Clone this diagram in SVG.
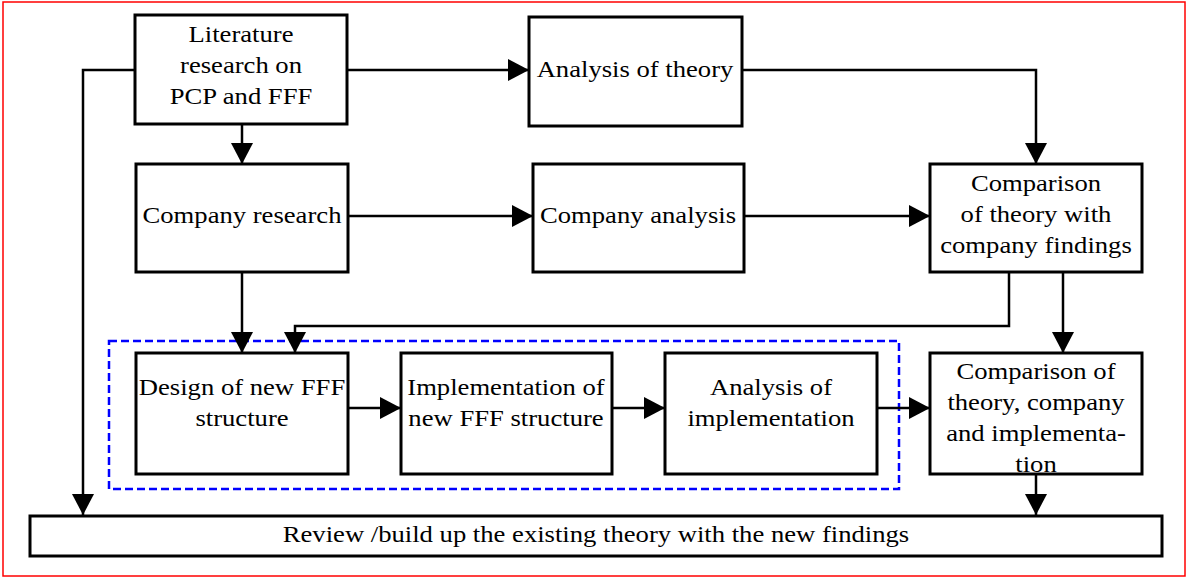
<svg xmlns="http://www.w3.org/2000/svg" width="1187" height="578" viewBox="0 0 1187 578">
<style>
.box{fill:#fff;stroke:#000;stroke-width:3}
.t{font-family:"Liberation Serif","Times New Roman",serif;font-size:24px;fill:#000;text-anchor:middle}
.c{fill:none;stroke:#000;stroke-width:2.5}
</style>
<defs>
<marker id="ah" markerUnits="userSpaceOnUse" markerWidth="21" markerHeight="22" refX="21" refY="11" orient="auto">
<path d="M0,0 L21,11 L0,22 z" fill="#000"/>
</marker>
</defs>
<rect x="3" y="2" width="1182" height="574" fill="#fff" stroke="#f00" stroke-width="1.5"/>
<rect id="group-frame" x="109" y="341" width="790" height="148" fill="none" stroke="#00f" stroke-width="2.5" stroke-dasharray="8 4"/>
<g id="connectors">
<polyline class="c" points="135,70 83,70 83,515" marker-end="url(#ah)"/>
<line class="c" x1="347" y1="70" x2="529" y2="70" marker-end="url(#ah)"/>
<line class="c" x1="242" y1="124" x2="242" y2="164" marker-end="url(#ah)"/>
<polyline class="c" points="742,70 1036,70 1036,164" marker-end="url(#ah)"/>
<line class="c" x1="348" y1="216" x2="533" y2="216" marker-end="url(#ah)"/>
<line class="c" x1="744" y1="216" x2="930" y2="216" marker-end="url(#ah)"/>
<line class="c" x1="242" y1="272" x2="242" y2="353" marker-end="url(#ah)"/>
<polyline class="c" points="1009,272 1009,326 295,326 295,353" marker-end="url(#ah)"/>
<line class="c" x1="1063" y1="272" x2="1063" y2="353" marker-end="url(#ah)"/>
<line class="c" x1="348" y1="408" x2="401" y2="408" marker-end="url(#ah)"/>
<line class="c" x1="612" y1="408" x2="665" y2="408" marker-end="url(#ah)"/>
<line class="c" x1="877" y1="408" x2="930" y2="408" marker-end="url(#ah)"/>
<line class="c" x1="1036" y1="474" x2="1036" y2="515" marker-end="url(#ah)"/>
</g>
<g id="literature">
<rect class="box" x="135" y="15" width="212" height="109"/>
<g transform="translate(241 0) scale(1.11 1)">
<text class="t" x="0" y="42">Literature</text>
<text class="t" x="0" y="73">research on</text>
<text class="t" x="0" y="104">PCP and FFF</text>
</g>
</g>
<g id="analysis-theory">
<rect class="box" x="529" y="17" width="213" height="109"/>
<g transform="translate(635 0) scale(1.11 1)">
<text class="t" x="0" y="77">Analysis of theory</text>
</g>
</g>
<g id="company-research">
<rect class="box" x="136" y="164" width="212" height="108"/>
<g transform="translate(242 0) scale(1.11 1)">
<text class="t" x="0" y="223">Company research</text>
</g>
</g>
<g id="company-analysis">
<rect class="box" x="533" y="164" width="211" height="108"/>
<g transform="translate(638 0) scale(1.11 1)">
<text class="t" x="0" y="223">Company analysis</text>
</g>
</g>
<g id="comparison1">
<rect class="box" x="930" y="164" width="212" height="108"/>
<g transform="translate(1036 0) scale(1.11 1)">
<text class="t" x="0" y="191">Comparison</text>
<text class="t" x="0" y="222">of theory with</text>
<text class="t" x="0" y="253">company findings</text>
</g>
</g>
<g id="design">
<rect class="box" x="136" y="353" width="212" height="121"/>
<g transform="translate(242 0) scale(1.11 1)">
<text class="t" x="0" y="395">Design of new FFF</text>
<text class="t" x="0" y="426">structure</text>
</g>
</g>
<g id="implementation">
<rect class="box" x="401" y="353" width="211" height="121"/>
<g transform="translate(506 0) scale(1.11 1)">
<text class="t" x="0" y="395">Implementation of</text>
<text class="t" x="0" y="426">new FFF structure</text>
</g>
</g>
<g id="analysis-impl">
<rect class="box" x="665" y="353" width="212" height="121"/>
<g transform="translate(771 0) scale(1.11 1)">
<text class="t" x="0" y="395">Analysis of</text>
<text class="t" x="0" y="426">implementation</text>
</g>
</g>
<g id="comparison2">
<rect class="box" x="930" y="353" width="212" height="121"/>
<g transform="translate(1036 0) scale(1.11 1)">
<text class="t" x="0" y="379">Comparison of</text>
<text class="t" x="0" y="410">theory, company</text>
<text class="t" x="0" y="441">and implementa-</text>
<text class="t" x="0" y="472">tion</text>
</g>
</g>
<g id="review">
<rect class="box" x="30" y="516" width="1132" height="40"/>
<g transform="translate(596 0) scale(1.11 1)">
<text class="t" x="0" y="542">Review /build up the existing theory with the new findings</text>
</g>
</g>
</svg>
